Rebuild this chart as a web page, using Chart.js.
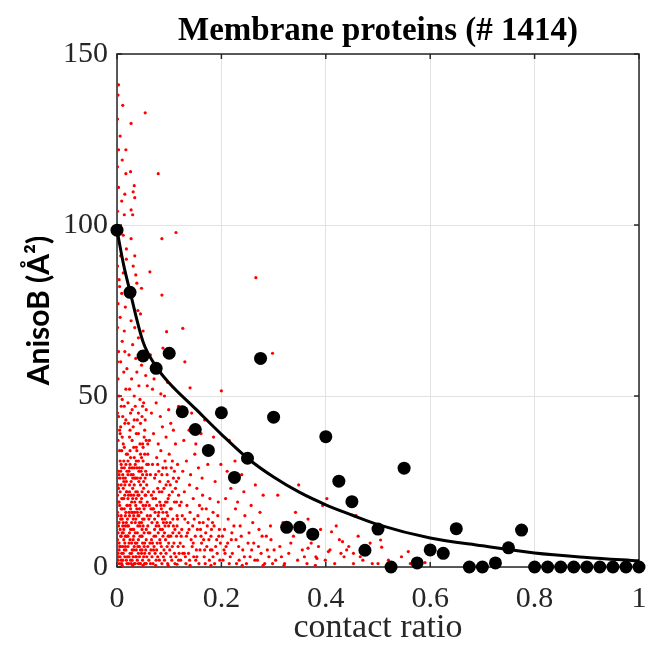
<!DOCTYPE html>
<html>
<head>
<meta charset="utf-8">
<script src="https://cdn.jsdelivr.net/npm/chart.js@4.4.1/dist/chart.umd.min.js"></script>
<style>
  html, body { margin: 0; padding: 0; background: #ffffff; }
  #wrap { width: 648px; height: 647px; }
</style>
</head>
<body>
<div id="wrap"><canvas id="c" width="648" height="647"></canvas></div>
<script>
// ---------- data ----------
const titleText = 'Membrane proteins (# 1414)';
const xTitle = 'contact ratio';
const yTitle = 'AnisoB (Å²)';
const xTicks = [0, 0.2, 0.4, 0.6, 0.8, 1];
const yTicks = [0, 50, 100, 150];

// binned means (black dots)
const binRatio = [0,0.025,0.05,0.075,0.1,0.125,0.15,0.175,0.2,0.225,0.25,0.275,0.3,0.325,0.35,0.375,0.4,0.425,0.45,0.475,0.5,0.525,0.55,0.575,0.6,0.625,0.65,0.675,0.7,0.725,0.75,0.775,0.8,0.825,0.85,0.875,0.9,0.925,0.95,0.975,1];
const binAniso = [98.5,80.3,61.7,58.1,62.5,45.4,40.2,34.1,45.1,26.2,31.8,61.0,43.8,11.6,11.6,9.6,38.1,25.1,19.1,4.9,11.1,0,28.9,1.2,5.0,4.0,11.2,0,0,1.2,5.6,10.8,0,0,0,0,0,0,0,0,0];

// fitted curve (black line)
const fitRatio = [0,0.0125,0.025,0.05,0.075,0.1,0.15,0.2,0.25,0.3,0.35,0.4,0.45,0.5,0.6,0.7,0.8,0.9,1.0];
const fitAniso = [98.5,88.5,80.5,65.8,58.6,53.8,46.3,38.8,31.8,26.3,21.8,18.2,15.2,12.4,8.5,6.2,4.1,2.8,1.8];

// individual residues (red points), [contact ratio, AnisoB]
const redPoints = [
[0.002,2],[0.004,5],[0.001,8],[0.006,3],[0.009,1],[0.003,12],[0.007,9],[0.012,4],[0.015,7],[0.018,2],[0.002,15],[0.005,18],[0.010,14],[0.013,11],[0.017,16],[0.001,21],[0.008,24],[0.011,20],[0.016,26],[0.019,22],[0.003,28],[0.006,31],[0.014,29],[0.009,34],[0.002,37],[0.012,36],[0.018,33],[0.005,40],[0.015,42],[0.001,45],[0.008,47],[0.011,44],[0.004,50],[0.017,52],[0.002,55],[0.013,57],[0.007,60],[0.019,58],[0.003,63],[0.010,66],[0.001,70],[0.006,73],[0.014,69],[0.002,77],[0.009,80],[0.004,84],[0.016,76],[0.001,88],[0.007,91],[0.012,86],[0.003,95],[0.018,93],[0.005,99],[0.001,104],[0.014,103],[0.003,111],[0.009,107],[0.015,109],[0.001,117],[0.017,115],[0.003,122],[0.001,131],[0.011,135],[0.003,141],[0.002,138],[0.006,126],[0.010,119],[0.004,27],[0.011,6],[0.016,12],[0.008,17],[0.020,9],[0.013,25],[0.006,39],[0.010,49],[0.001,60],[0.015,63],[0.005,82],[0.012,97],
[0.054,132.8],[0.027,129.7],[0.017,122],[0.079,115],[0.026,115.6],[0.033,111.5],[0.031,109.7],[0.034,108],[0.027,104.4],[0.030,103],[0.113,97.8],[0.086,96],[0.027,96],[0.034,91],[0.018,90],[0.063,86.3],[0.036,85.4],[0.047,81.5],[0.086,79.5],[0.266,84.6],[0.126,69.8],[0.095,68.8],[0.298,62.5],[0.130,60],[0.140,52.4],[0.200,51.5],[0.084,50.6],
[0.022,1],[0.025,4],[0.029,2],[0.033,6],[0.037,3],[0.041,1],[0.045,5],[0.049,2],[0.053,7],[0.057,3],[0.021,9],[0.026,11],[0.031,8],[0.035,13],[0.039,10],[0.044,12],[0.048,9],[0.052,14],[0.056,11],[0.059,6],[0.023,16],[0.028,19],[0.032,15],[0.036,18],[0.040,21],[0.043,17],[0.047,20],[0.051,23],[0.055,18],[0.058,15],[0.024,24],[0.027,27],[0.030,23],[0.034,26],[0.038,29],[0.042,25],[0.046,28],[0.050,31],[0.054,26],[0.060,22],[0.021,31],[0.025,34],[0.029,37],[0.033,32],[0.037,35],[0.041,39],[0.045,33],[0.049,36],[0.053,40],[0.057,30],[0.022,42],[0.026,45],[0.031,41],[0.035,47],[0.039,43],[0.044,49],[0.048,44],[0.052,38],[0.056,46],[0.059,36],[0.024,52],[0.028,55],[0.033,50],[0.038,57],[0.042,53],[0.047,59],[0.051,48],[0.023,62],[0.030,65],[0.036,61],[0.041,67],[0.046,63],[0.055,56],[0.027,72],[0.034,70],[0.040,75],[0.022,80],[0.038,83],[0.045,74],[0.031,88],[0.050,69],[0.058,53],[0.020,14],[0.035,1],[0.043,3],[0.028,7],[0.054,1],[0.032,21],[0.047,13],[0.024,38],[0.039,16],[0.057,24],
[0.061,2],[0.065,5],[0.069,1],[0.073,4],[0.077,7],[0.081,2],[0.085,6],[0.089,3],[0.093,8],[0.097,1],[0.101,5],[0.105,2],[0.109,7],[0.113,3],[0.117,6],[0.063,10],[0.067,13],[0.071,9],[0.075,12],[0.079,15],[0.083,11],[0.087,14],[0.091,10],[0.095,16],[0.099,12],[0.103,9],[0.107,14],[0.111,11],[0.115,15],[0.119,10],[0.062,18],[0.066,21],[0.070,17],[0.074,20],[0.078,23],[0.082,19],[0.086,22],[0.090,18],[0.094,24],[0.098,20],[0.102,17],[0.106,22],[0.110,19],[0.114,25],[0.118,21],[0.064,27],[0.068,30],[0.072,26],[0.076,32],[0.080,28],[0.084,34],[0.088,29],[0.092,31],[0.096,27],[0.100,33],[0.104,29],[0.108,26],[0.116,30],[0.062,37],[0.070,39],[0.079,36],[0.087,41],[0.094,38],[0.103,42],[0.112,36],[0.066,45],[0.075,48],[0.083,44],[0.091,50],[0.099,46],[0.108,40],[0.071,55],[0.080,58],[0.097,54],[0.064,62],[0.088,64],[0.068,52],[0.118,47],[0.060,30],[0.074,0.5],[0.098,0.5],[0.115,0.8],
[0.122,2],[0.127,6],[0.132,1],[0.137,4],[0.142,8],[0.147,3],[0.152,5],[0.157,1],[0.162,7],[0.167,3],[0.172,6],[0.177,2],[0.182,5],[0.187,1],[0.192,4],[0.197,2],[0.124,11],[0.130,14],[0.135,10],[0.140,16],[0.145,12],[0.150,9],[0.155,15],[0.160,11],[0.165,13],[0.170,10],[0.175,14],[0.180,9],[0.186,12],[0.191,8],[0.196,11],[0.123,19],[0.129,22],[0.134,18],[0.139,24],[0.146,20],[0.153,23],[0.158,18],[0.164,21],[0.171,17],[0.178,20],[0.184,16],[0.194,19],[0.126,28],[0.133,31],[0.141,27],[0.149,33],[0.156,29],[0.163,26],[0.174,30],[0.188,25],[0.128,37],[0.138,40],[0.151,36],[0.161,39],[0.176,34],[0.143,45],[0.168,43],[0.185,38],[0.199,30],
[0.203,2],[0.209,6],[0.215,1],[0.221,4],[0.228,8],[0.234,2],[0.241,5],[0.248,1],[0.255,3],[0.262,7],[0.269,2],[0.276,4],[0.283,1],[0.291,3],[0.298,1],[0.206,11],[0.213,14],[0.220,10],[0.227,17],[0.236,12],[0.245,15],[0.253,10],[0.260,13],[0.272,11],[0.286,9],[0.208,20],[0.218,23],[0.231,19],[0.243,22],[0.257,18],[0.274,16],[0.211,28],[0.226,31],[0.239,27],[0.265,24],[0.215,37],[0.250,33],[0.280,21],[0.295,8],
[0.304,2],[0.312,6],[0.321,1],[0.329,4],[0.338,9],[0.346,2],[0.355,5],[0.364,1],[0.372,7],[0.381,3],[0.390,11],[0.399,2],[0.408,5],[0.417,1],[0.426,8],[0.435,3],[0.444,6],[0.453,1],[0.462,9],[0.471,2],[0.480,4],[0.489,1],[0.496,12],[0.318,13],[0.342,16],[0.366,14],[0.394,18],[0.420,12],[0.458,15],[0.308,21],[0.348,24],[0.402,20],
[0.366,5.5],[0.383,2.5],[0.411,10.3],[0.432,7.4],[0.440,5],[0.453,4],[0.405,4.5],[0.500,1],[0.505,7.9],[0.507,5.8],[0.558,4.5],[0.562,1],[0.590,1.3],[0.520,2],[0.545,3],
[0.001,1],[0.003,3],[0.005,1],[0.007,6],[0.009,4],[0.011,2],[0.013,8],[0.015,3],[0.017,5],[0.019,1],[0.021,6],[0.023,3],[0.025,8],[0.027,1],[0.029,5],[0.031,3],[0.033,1],[0.035,7],[0.037,5],[0.039,2],[0.041,8],[0.043,6],[0.045,1],[0.047,4],[0.049,7],[0.051,3],[0.053,1],[0.055,5],[0.002,10],[0.004,13],[0.006,11],[0.008,15],[0.010,10],[0.012,13],[0.014,17],[0.016,9],[0.018,13],[0.020,18],[0.022,12],[0.024,15],[0.026,17],[0.028,13],[0.030,16],[0.032,11],[0.034,19],[0.036,14],[0.038,17],[0.040,12],[0.042,15],[0.044,19],[0.046,16],[0.048,11],[0.050,18],[0.052,10],[0.003,19],[0.006,22],[0.009,20],[0.012,23],[0.015,21],[0.018,25],[0.021,20],[0.024,22],[0.027,25],[0.030,20],[0.033,24],[0.036,22],[0.039,26],[0.042,21],[0.045,24],[0.048,22],[0.001,26],[0.007,28],[0.013,31],[0.019,28],[0.025,30],[0.031,27],[0.037,31],[0.043,29],[0.049,27],[0.055,28],
[0.062,4],[0.066,8],[0.070,5],[0.074,9],[0.078,3],[0.082,8],[0.086,1],[0.090,5],[0.094,4],[0.098,9],[0.102,13],[0.106,6],[0.110,4],[0.114,9],[0.118,2],[0.064,15],[0.068,17],[0.072,14],[0.076,18],[0.080,16],[0.084,18],[0.088,16],[0.092,14],[0.096,19],[0.100,21],[0.104,17],[0.108,12],[0.112,23],[0.116,14],[0.120,18],
[0.004,7],[0.008,2],[0.012,10],[0.016,6],[0.020,3],[0.024,10],[0.028,4],[0.032,9],[0.036,3],[0.040,6],[0.044,9],[0.048,5],[0.052,6],[0.056,8],[0.060,10],[0.064,1],[0.068,7],[0.072,11],[0.076,5],[0.080,12],[0.084,4],[0.088,9],[0.092,12],[0.096,6],[0.100,9],
[0.002,24],[0.005,34],[0.008,30],[0.011,27],[0.014,35],[0.017,30],[0.020,33],[0.023,28],[0.026,32],[0.029,29],[0.032,35],[0.035,30],[0.038,34],[0.041,31],[0.044,36],[0.047,32],[0.050,35],[0.053,33],[0.056,37],[0.059,33],
[0.003,44],[0.007,41],[0.010,38],[0.014,47],[0.017,43],[0.021,48],[0.025,40],[0.029,46],[0.033,43],[0.037,39],[0.041,45],[0.045,42],[0.049,47],[0.054,43],
[0.070,22],[0.074,27],[0.078,30],[0.082,25],[0.086,27],[0.090,23],[0.094,29],[0.098,25],[0.102,24],[0.106,31],[0.110,28],[0.114,19],[0.118,26],
[0.121,7],[0.125,15],[0.129,4],[0.133,9],[0.136,13],[0.139,2],[0.144,6],[0.148,14],[0.151,2],[0.154,11],[0.159,5],[0.163,17],[0.166,8],[0.169,1],[0.173,12],[0.179,5],[0.183,13],[0.189,6],[0.193,15],[0.198,7],[0.202,9],[0.207,4],[0.212,7],[0.217,3],[0.224,12],[0.229,1],[0.233,6],[0.238,9],[0.244,3],[0.251,7],[0.258,5],[0.264,2],[0.271,6],[0.278,9],[0.288,5],[0.294,12],[0.301,5],[0.315,3],[0.333,7],[0.359,3],[0.377,10],[0.386,6],[0.429,4],[0.466,3],[0.485,7],[0.010,0.5],[0.030,0.5],[0.050,0.5],[0.140,0.5],[0.180,0.5],[0.240,0.5],[0.280,0.5],[0.320,0.5],[0.380,0.5],
[0.002,4],[0.005,6],[0.008,9],[0.011,12],[0.014,5],[0.017,9],[0.020,12],[0.023,7],[0.026,2],[0.029,11],[0.032,5],[0.035,10],[0.038,7],[0.041,4],[0.044,1],[0.047,9],[0.050,12],[0.053,4],[0.056,1],[0.059,12],
[0.001,16],[0.004,19],[0.007,14],[0.010,17],[0.013,20],[0.016,15],[0.019,18],[0.022,21],[0.025,18],[0.028,16],[0.031,14],[0.034,16],[0.037,20],[0.040,15],[0.043,13],[0.046,19],[0.049,14],[0.052,17],[0.055,21],[0.058,19],
[0.003,23],[0.006,26],[0.009,29],[0.012,26],[0.015,24],[0.018,22],[0.021,27],[0.024,29],[0.027,21],[0.030,26],[0.033,29],[0.036,26],[0.039,22],[0.042,28],[0.045,26],[0.048,29],[0.051,25],[0.054,21],[0.057,27],
[0.063,7],[0.067,3],[0.071,6],[0.075,2],[0.079,10],[0.083,7],[0.087,11],[0.091,2],[0.095,13],[0.099,7],[0.103,3],[0.107,10],[0.111,1],[0.115,12],[0.119,4],
[0.061,14],[0.065,17],[0.069,20],[0.073,16],[0.077,13],[0.081,22],[0.085,17],[0.089,13],[0.093,19],[0.097,15],
[0.123,9],[0.131,3],[0.138,11],[0.146,7],[0.153,3],[0.161,9],[0.168,5],[0.176,8],[0.184,3],[0.195,9],[0.126,4],[0.158,13],[0.181,11],[0.205,5],[0.219,8]
];

// ---------- plugins ----------
const AXIS_COLOR = '#262626';
const boxPlugin = {
  id: 'matlabBox',
  beforeDatasetsDraw(chart) {
    const {ctx, chartArea: a, scales: {x, y}} = chart;
    ctx.save();
    ctx.strokeStyle = AXIS_COLOR;
    ctx.lineWidth = 1.5;
    ctx.beginPath();
    const tl = 5;
    xTicks.forEach(v => {
      const px = x.getPixelForValue(v);
      ctx.moveTo(px, a.bottom); ctx.lineTo(px, a.bottom - tl);
      ctx.moveTo(px, a.top); ctx.lineTo(px, a.top + tl);
    });
    yTicks.forEach(v => {
      const py = y.getPixelForValue(v);
      ctx.moveTo(a.left, py); ctx.lineTo(a.left + tl, py);
      ctx.moveTo(a.right, py); ctx.lineTo(a.right - tl, py);
    });
    ctx.stroke();
    ctx.strokeRect(a.left, a.top, a.right - a.left, a.bottom - a.top);
    ctx.restore();
  }
};
const titlePlugin = {
  id: 'plotTitle',
  afterDraw(chart) {
    const {ctx, chartArea: a} = chart;
    ctx.save();
    ctx.font = 'bold 33px "Liberation Serif", "Times New Roman", serif';
    ctx.fillStyle = '#000000';
    ctx.textAlign = 'center';
    ctx.textBaseline = 'middle';
    ctx.fillText(titleText, (a.left + a.right) / 2, 31);
    ctx.restore();
  }
};

const serif = '"Liberation Serif", "Times New Roman", serif';

new Chart(document.getElementById('c'), {
  type: 'scatter',
  data: {
    datasets: [
      {
        label: 'bin mean',
        data: binRatio.map((r, i) => ({x: r, y: binAniso[i]})),
        backgroundColor: '#000000',
        borderColor: '#000000',
        pointRadius: 6.5,
        pointHoverRadius: 6.5,
        borderWidth: 0,
        clip: false
      },
      {
        label: 'fit',
        type: 'line',
        data: fitRatio.map((r, i) => ({x: r, y: fitAniso[i]})),
        borderColor: '#000000',
        borderWidth: 3,
        pointRadius: 0,
        fill: false,
        cubicInterpolationMode: 'monotone',
        clip: false
      },
      {
        label: 'residues',
        data: redPoints.map(p => ({x: p[0], y: p[1]})),
        backgroundColor: '#ff0000',
        borderWidth: 0,
        pointRadius: 1.6,
        pointHoverRadius: 1.6
      }
    ]
  },
  options: {
    responsive: false,
    animation: false,
    devicePixelRatio: 1,
    layout: { padding: { top: 54, right: 9, left: 0, bottom: 0 } },
    plugins: { legend: { display: false }, tooltip: { enabled: false } },
    scales: {
      x: {
        type: 'linear',
        min: 0, max: 1,
        afterFit(s) { s.height = 80; s.paddingLeft = 0; s.paddingRight = 0; },
        afterBuildTicks(s) { s.ticks = xTicks.map(v => ({value: v})); },
        grid: { color: '#e2e2e2', lineWidth: 1, drawTicks: false },
        border: { display: false },
        ticks: {
          font: { family: serif, size: 30 },
          color: AXIS_COLOR,
          padding: 14,
          maxRotation: 0,
          callback: v => String(v)
        },
        title: {
          display: true,
          text: xTitle,
          font: { family: serif, size: 34, lineHeight: 1.1 },
          color: AXIS_COLOR,
          padding: { top: 0, bottom: 0 }
        }
      },
      y: {
        type: 'linear',
        min: 0, max: 150,
        afterFit(s) { s.width = 117; s.paddingTop = 0; s.paddingBottom = 0; },
        afterBuildTicks(s) { s.ticks = yTicks.map(v => ({value: v})); },
        grid: { color: '#e2e2e2', lineWidth: 1, drawTicks: false },
        border: { display: false },
        ticks: {
          font: { family: serif, size: 30 },
          color: AXIS_COLOR,
          padding: 9,
          callback: v => String(v)
        },
        title: {
          display: true,
          text: yTitle,
          font: { family: 'Lato, "Liberation Sans", sans-serif', size: 30, weight: 'bold', lineHeight: 1.2 },
          color: '#000000',
          padding: { top: 21, bottom: 0 }
        }
      }
    }
  },
  plugins: [boxPlugin, titlePlugin]
});
</script>
</body>
</html>
